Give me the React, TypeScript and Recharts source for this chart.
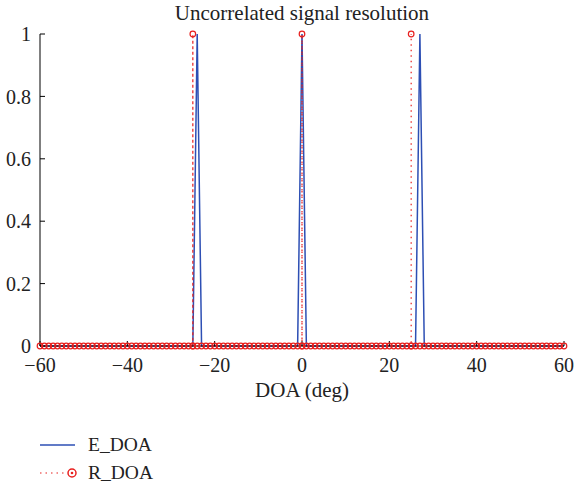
import React from 'react';
import { LineChart, Line, XAxis, YAxis } from 'recharts';

// scan grid (deg), used by the estimated spectrum
const angles = [
  -60, -59, -58, -57, -56, -55, -54, -53, -52, -51, -50, -49, -48, -47, -46, -45, -44, -43, -42, -41,
  -40, -39, -38, -37, -36, -35, -34, -33, -32, -31, -30, -29, -28, -27, -26, -25, -24, -23, -22, -21,
  -20, -19, -18, -17, -16, -15, -14, -13, -12, -11, -10, -9, -8, -7, -6, -5, -4, -3, -2, -1,
  0, 1, 2, 3, 4, 5, 6, 7, 8, 9, 10, 11, 12, 13, 14, 15, 16, 17, 18, 19,
  20, 21, 22, 23, 24, 25, 26, 27, 28, 29, 30, 31, 32, 33, 34, 35, 36, 37, 38, 39,
  40, 41, 42, 43, 44, 45, 46, 47, 48, 49, 50, 51, 52, 53, 54, 55, 56, 57, 58, 59,
  60,
];

const eDoa = [
  0, 0, 0, 0, 0, 0, 0, 0, 0, 0, 0, 0, 0, 0, 0, 0, 0, 0, 0, 0,
  0, 0, 0, 0, 0, 0, 0, 0, 0, 0, 0, 0, 0, 0, 0, 0, 1, 0, 0, 0,
  0, 0, 0, 0, 0, 0, 0, 0, 0, 0, 0, 0, 0, 0, 0, 0, 0, 0, 0, 0,
  1, 0, 0, 0, 0, 0, 0, 0, 0, 0, 0, 0, 0, 0, 0, 0, 0, 0, 0, 0,
  0, 0, 0, 0, 0, 0, 0, 1, 0, 0, 0, 0, 0, 0, 0, 0, 0, 0, 0, 0,
  0, 0, 0, 0, 0, 0, 0, 0, 0, 0, 0, 0, 0, 0, 0, 0, 0, 0, 0, 0,
  0,
];

// real DOA: same grid, but each true angle is drawn as a vertical stem (0 -> 1 -> 0)
const rAngles = [
  -60, -59, -58, -57, -56, -55, -54, -53, -52, -51, -50, -49, -48, -47, -46, -45, -44, -43, -42, -41,
  -40, -39, -38, -37, -36, -35, -34, -33, -32, -31, -30, -29, -28, -27, -26, -25, -25, -25, -24, -23, -22, -21,
  -20, -19, -18, -17, -16, -15, -14, -13, -12, -11, -10, -9, -8, -7, -6, -5, -4, -3, -2, -1,
  0, 0, 0, 1, 2, 3, 4, 5, 6, 7, 8, 9, 10, 11, 12, 13, 14, 15, 16, 17, 18, 19,
  20, 21, 22, 23, 24, 25, 25, 25, 26, 27, 28, 29, 30, 31, 32, 33, 34, 35, 36, 37, 38, 39,
  40, 41, 42, 43, 44, 45, 46, 47, 48, 49, 50, 51, 52, 53, 54, 55, 56, 57, 58, 59,
  60,
];

const rDoa = [
  0, 0, 0, 0, 0, 0, 0, 0, 0, 0, 0, 0, 0, 0, 0, 0, 0, 0, 0, 0,
  0, 0, 0, 0, 0, 0, 0, 0, 0, 0, 0, 0, 0, 0, 0, 0, 1, 0, 0, 0, 0, 0,
  0, 0, 0, 0, 0, 0, 0, 0, 0, 0, 0, 0, 0, 0, 0, 0, 0, 0, 0, 0,
  0, 1, 0, 0, 0, 0, 0, 0, 0, 0, 0, 0, 0, 0, 0, 0, 0, 0, 0, 0, 0, 0,
  0, 0, 0, 0, 0, 0, 1, 0, 0, 0, 0, 0, 0, 0, 0, 0, 0, 0, 0, 0, 0, 0,
  0, 0, 0, 0, 0, 0, 0, 0, 0, 0, 0, 0, 0, 0, 0, 0, 0, 0, 0, 0,
  0,
];

const xTicks = [-60, -40, -20, 0, 20, 40, 60];
const yTicks = [0, 0.2, 0.4, 0.6, 0.8, 1];

const eData = angles.map((a, i) => ({ angle: a, e: eDoa[i] }));
const rData = rAngles.map((a, i) => ({ angle: a, r: rDoa[i] }));

const FONT = '"Liberation Serif", "DejaVu Serif", serif';
const BLUE = '#2d4fb4';
const RED = '#e8201f';

const fmtX = (v: number) => (v < 0 ? `\u2212${Math.abs(v)}` : `${v}`);
const tickStyle = { fill: '#222', fontSize: 20, fontFamily: FONT, style: { fontFamily: FONT } };
const noLabel = () => <g />;

export default function App() {
  return (
    <div style={{ position: 'absolute', left: 0, top: 0, width: 575, height: 485, background: '#fff', fontFamily: FONT }}>
      <div style={{ position: 'absolute', left: 0, width: 604, top: 1, textAlign: 'center', fontSize: 21, color: '#222' }}>
        Uncorrelated signal resolution
      </div>
      <LineChart
        width={575}
        height={485}
        margin={{ top: 34, right: 11, bottom: 109, left: 10 }}
        style={{ fontFamily: FONT }}
      >
        <XAxis
          dataKey="angle"
          type="number"
          domain={[-60, 60]}
          ticks={xTicks}
          tickFormatter={fmtX}
          height={30}
          stroke="#000"
          tickSize={-5}
          tickMargin={17}
          tick={tickStyle}
          allowDuplicatedCategory={false}
        />
        <XAxis
          xAxisId="top"
          orientation="top"
          dataKey="angle"
          type="number"
          domain={[-60, 60]}
          ticks={xTicks}
          height={0}
          stroke="#000"
          tickSize={-5}
          tick={noLabel}
        />
        <YAxis
          type="number"
          domain={[0, 1]}
          ticks={yTicks}
          width={30}
          stroke="#000"
          tickSize={-5}
          tickMargin={14}
          tick={tickStyle}
        />
        <YAxis
          yAxisId="right"
          orientation="right"
          type="number"
          domain={[0, 1]}
          ticks={yTicks}
          width={0}
          stroke="#000"
          tickSize={-5}
          tick={noLabel}
        />
        <Line
          data={eData}
          dataKey="e"
          type="linear"
          stroke={BLUE}
          strokeWidth={1.5}
          dot={false}
          activeDot={false}
          isAnimationActive={false}
        />
        <Line
          data={rData}
          dataKey="r"
          type="linear"
          stroke={RED}
          strokeWidth={1.2}
          strokeDasharray="1.5 4"
          dot={{ r: 2.8, stroke: RED, strokeWidth: 1.2, fill: 'none', strokeDasharray: '0' }}
          activeDot={false}
          isAnimationActive={false}
        />
      </LineChart>
      <div style={{ position: 'absolute', left: 232, width: 140, top: 378, textAlign: 'center', fontSize: 21, color: '#222' }}>
        DOA (deg)
      </div>
      <svg style={{ position: 'absolute', left: 0, top: 430 }} width={200} height={55}>
        <line x1={40} y1={15} x2={75} y2={15} stroke={BLUE} strokeWidth={1.5} />
        <line x1={40} y1={43} x2={66} y2={43} stroke={RED} strokeWidth={1.2} strokeDasharray="1.5 4" />
        <circle cx={72} cy={43} r={4} stroke={RED} strokeWidth={1.5} fill="none" />
        <circle cx={72} cy={43} r={1.3} fill={RED} />
        <text x={88} y={21} fontSize={19.5} style={{ fontFamily: FONT }} fill="#222">E_DOA</text>
        <text x={88} y={49} fontSize={19.5} style={{ fontFamily: FONT }} fill="#222">R_DOA</text>
      </svg>
    </div>
  );
}
